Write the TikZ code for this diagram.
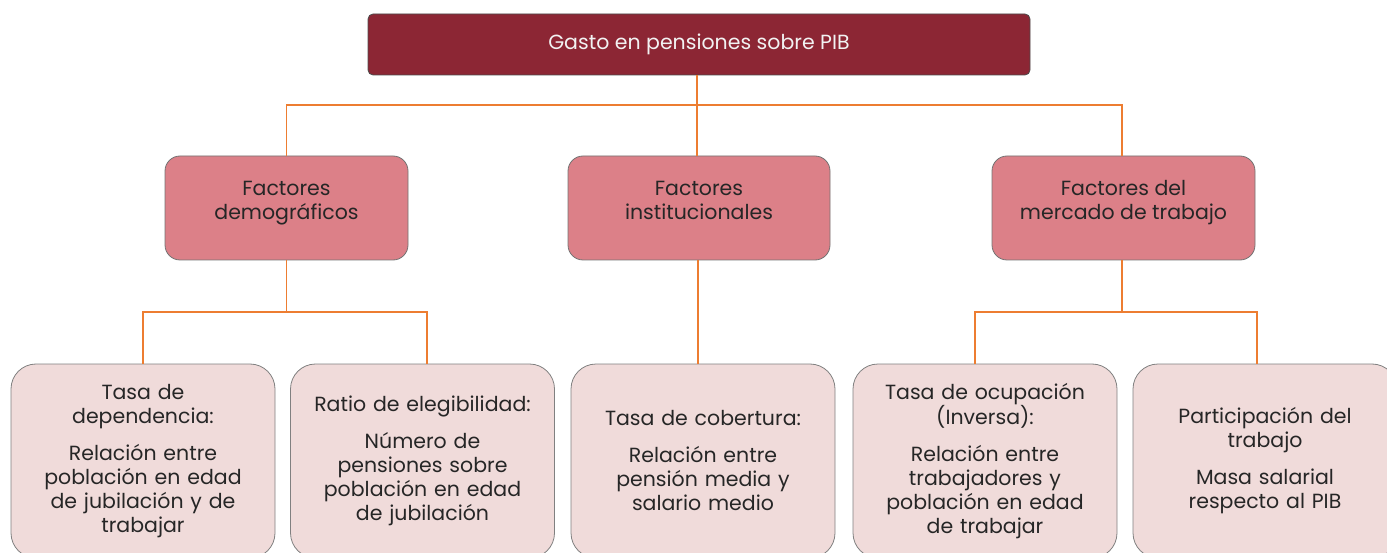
\documentclass[tikz,border=0pt]{standalone}
\usepackage{fontspec}
\setmainfont{Poppins}
\usetikzlibrary{positioning}
\definecolor{gastored}{RGB}{140,38,52}
\definecolor{factorrose}{RGB}{220,128,136}
\definecolor{detailpink}{RGB}{240,219,218}
\definecolor{linkorange}{RGB}{237,125,49}
\definecolor{textgray}{RGB}{38,38,38}

\begin{document}
\begin{tikzpicture}[x=1pt,y=-1pt,
  topbox/.style={draw=black!70, fill=gastored, rounded corners=5pt, line width=0.8pt,
    minimum width=662pt, minimum height=61pt, text=white!95!black,
    font=\fontsize{20.5}{24}\selectfont},
  factorbox/.style={draw=black!55, fill=factorrose, rounded corners=15pt, line width=0.8pt,
    minimum height=104pt, align=center, text=textgray,
    font=\fontsize{20.5}{24}\selectfont},
  detailbox/.style={draw=black!50, fill=detailpink, rounded corners=25pt, line width=0.8pt,
    minimum width=264pt, minimum height=194pt, text width=256pt, align=center,
    text=textgray, font=\fontsize{20.5}{24}\selectfont},
  link/.style={draw=linkorange, line width=1.1pt}]
\useasboundingbox (0,0) rectangle (1387,553);
\clip (0,0) rectangle (1387,553);

% Top box
\node[topbox] (gasto) at (699,44.5) {Gasto en pensiones sobre PIB};

% Factors
\node[factorbox, minimum width=243pt] (demo) at (286.5,208) {Factores\\demográficos\\[-8pt]};
\node[factorbox, minimum width=262pt] (inst) at (699,208) {Factores\\institucionales\\[-8pt]};
\node[factorbox, minimum width=263pt] (mercado) at (1123.5,208) {Factores del\\mercado de trabajo\\[-8pt]};

% Details
\node[detailbox] (dep) at (143,461) {Tasa de\\dependencia:\\[13pt]Relación entre\\población en edad\\de jubilación y de\\trabajar};
\node[detailbox] (eleg) at (422.5,461) {Ratio de elegibilidad:\\[13pt]Número de\\pensiones sobre\\población en edad\\de jubilación};
\node[detailbox] (cob) at (703,461) {Tasa de cobertura:\\[13pt]Relación entre\\pensión media y\\salario medio};
\node[detailbox] (ocup) at (985,461) {Tasa de ocupación\\(Inversa):\\[13pt]Relación entre\\trabajadores y\\población en edad\\de trabajar};
\node[detailbox] (part) at (1265,461) {Participación del\\trabajo\\[13pt]Masa salarial\\respecto al PIB};

% Connectors
\coordinate (top split) at (697,105);
\draw[link] ([xshift=-2pt]gasto.south) -- (top split);
\draw[link] (demo.north) |- (top split) -| ([xshift=-1.5pt]mercado.north);
\draw[link] (top split) -- (top split |- inst.north);

\coordinate (demo split) at (demo.south |- 0,312);
\draw[link] (demo.south) -- (demo split);
\draw[link] (dep.north) |- (demo split) -| ([xshift=4.5pt]eleg.north);

\draw[link] ([xshift=-1pt]inst.south) -- ([xshift=-1pt]inst.south |- cob.north);

\coordinate (mercado split) at ([xshift=-1.5pt]mercado.south |- 0,312);
\draw[link] ([xshift=-1.5pt]mercado.south) -- (mercado split);
\draw[link] ([xshift=-10pt]ocup.north) |- (mercado split) -| ([xshift=-8pt]part.north);
\end{tikzpicture}
\end{document}
